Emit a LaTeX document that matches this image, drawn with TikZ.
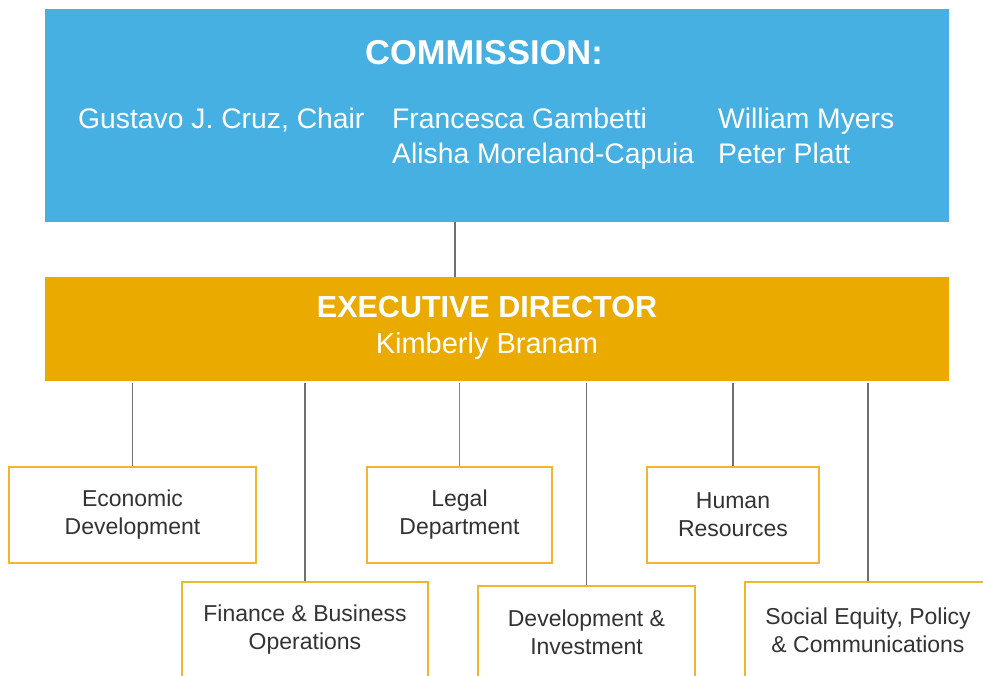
\documentclass[tikz,border=0pt]{standalone}
\usepackage{fontspec}
\setmainfont{Liberation Sans}
\usetikzlibrary{calc}
\definecolor{commblue}{HTML}{47B0E2}
\definecolor{execgold}{HTML}{EAAA00}
\definecolor{boxgold}{HTML}{F2B530}
\definecolor{linegray}{HTML}{707070}
\definecolor{linepurple}{HTML}{8080B5}
\definecolor{textgray}{HTML}{333333}

\begin{document}
\begin{tikzpicture}[x=1pt, y=-1pt,
  topblock/.style={rectangle, inner sep=0pt, minimum width=904pt},
  dept/.style={rectangle, draw=boxgold, line width=1.6pt, fill=white, minimum height=96pt, align=center, text=textgray, font=\fontsize{23}{28}\selectfont},
  member/.style={anchor=base west, inner sep=0pt, text=white, font=\fontsize{28.3}{34}\selectfont},
  link/.style={draw=linegray, line width=1.4pt}]

  \useasboundingbox (0,0) rectangle (983,675);
  \clip (0,0) rectangle (983,675);

  \node[topblock, fill=commblue, minimum height=213pt] at (497,115.5) (comm) {};
  \node[topblock, fill=execgold, minimum height=104pt] at (497,329) (exec) {};

  \node[anchor=base, inner sep=0pt, text=white, font=\bfseries\fontsize{34.5}{40}\selectfont] at (484,64) (title) {COMMISSION:};
  \node[member] at (78,128) (gustavo) {Gustavo J. Cruz, Chair};
  \node[member] at (392,128) (francesca) {Francesca Gambetti};
  \node[member] at (392,163) (alisha) {Alisha Moreland-Capuia};
  \node[member] at (718,128) (william) {William Myers};
  \node[member] at (718,163) (peter) {Peter Platt};

  \node[anchor=base, inner sep=0pt, text=white, font=\bfseries\fontsize{30.5}{36}\selectfont] at (487,317) (role) {EXECUTIVE DIRECTOR};
  \node[anchor=base, inner sep=0pt, text=white, font=\fontsize{29}{34}\selectfont] at (487,353) (director) {Kimberly Branam};

  \node[dept, minimum width=247pt] at (132.5,515) (econ) {Economic\\Development};
  \node[dept, minimum width=185pt] at (459.5,515) (legal) {\raisebox{3pt}{Legal}\\\raisebox{3pt}{Department}};
  \node[dept, minimum width=172pt] at (733,515) (hr) {Human\\Resources};
  \node[dept, minimum width=246pt] at (305,630) (finance) {Finance \& Business\\Operations};
  \node[dept, minimum width=217pt] at (586.5,634) (devinv) {\raisebox{4pt}{Development \&}\\\raisebox{4pt}{Investment}};
  \node[dept, minimum width=246pt] at (868,630) (social) {Social Equity, Policy\\\& Communications};

  \coordinate (drop) at (455,250);
  \draw[link] (comm.south -| drop) -- (exec.north -| drop);
  \draw[link] ([yshift=-2pt]exec.south -| econ.north) -- (econ.north);
  \draw[link] ([yshift=-2pt]exec.south -| finance.north) -- (finance.north);
  \draw[link, draw=linepurple] ([yshift=-2pt]exec.south -| legal.north) -- (legal.north);
  \draw[link] ([yshift=-2pt]exec.south -| devinv.north) -- (devinv.north);
  \draw[link] ([yshift=-2pt]exec.south -| hr.north) -- (hr.north);
  \draw[link] ([yshift=-2pt]exec.south -| social.north) -- (social.north);

\end{tikzpicture}
\end{document}
